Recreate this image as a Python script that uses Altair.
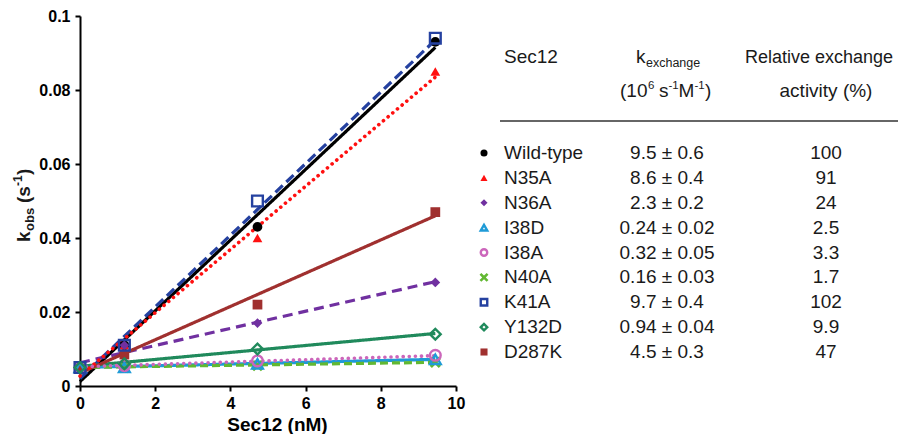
import altair as alt
import pandas as pd

FONT = "Liberation Sans"

series = ["Wild-type", "N35A", "N36A", "I38D", "I38A", "N40A", "K41A", "Y132D", "D287K"]
colors = ["#000000", "#ff1010", "#7030a0", "#1f9bd7", "#cc66bb", "#62b832", "#2541a0", "#208a5c", "#a0302f"]
k_text = ["9.5 ± 0.6", "8.6 ± 0.4", "2.3 ± 0.2", "0.24 ± 0.02", "0.32 ± 0.05",
          "0.16 ± 0.03", "9.7 ± 0.4", "0.94 ± 0.04", "4.5 ± 0.3"]
rel_text = ["100", "91", "24", "2.5", "3.3", "1.7", "102", "9.9", "47"]

filled_series = ["Wild-type", "N35A", "N36A", "N40A", "D287K"]
hollow_series = ["I38D", "I38A", "K41A", "Y132D"]
dotted_series = ["N35A", "I38A"]
other_series = ["Wild-type", "N36A", "I38D", "N40A", "K41A", "Y132D", "D287K"]

X_PATH = "M-1,-0.6L-0.6,-1L0,-0.4L0.6,-1L1,-0.6L0.4,0L1,0.6L0.6,1L0,0.4L-0.6,1L-1,0.6L-0.4,0Z"
shapes = ["circle", "triangle-up", "diamond", "triangle-up", "circle", X_PATH, "square", "diamond", "square"]
dashes = [[1, 0], [0.1, 6], [10, 6], [1, 0], [0.1, 6], [8, 4], [10, 5], [1, 0], [1, 0]]

# measured points (Sec12 nM, kobs s^-1)
conc = [0, 1.18, 4.72, 9.45]
kobs = {
    "Wild-type": [0.005, 0.011, 0.043, 0.093],
    "N35A":      [0.005, 0.011, 0.040, 0.085],
    "N36A":      [0.005, 0.011, 0.017, 0.028],
    "I38D":      [0.005, 0.005, 0.006, 0.0072],
    "I38A":      [0.005, 0.0055, 0.0068, 0.0083],
    "N40A":      [0.005, 0.005, 0.0055, 0.0064],
    "K41A":      [0.005, 0.011, 0.050, 0.094],
    "Y132D":     [0.005, 0.006, 0.010, 0.014],
    "D287K":     [0.005, 0.0085, 0.022, 0.047],
}
# linear fits (values at start and end)
fit_x = [0, 9.45]
fit_y = {
    "Wild-type": [0.0012, 0.0915],
    "N35A":      [0.0027, 0.0835],
    "N36A":      [0.0063, 0.0282],
    "I38D":      [0.0050, 0.0072],
    "I38A":      [0.0052, 0.0082],
    "N40A":      [0.0050, 0.0064],
    "K41A":      [0.0020, 0.0935],
    "Y132D":     [0.0053, 0.0142],
    "D287K":     [0.0035, 0.0460],
}

pts = pd.DataFrame([{"series": s, "conc": c, "kobs": v}
                    for s in series for c, v in zip(conc, kobs[s])])
fits = pd.DataFrame([{"series": s, "conc": c, "kobs": v}
                     for s in series for c, v in zip(fit_x, fit_y[s])])
table = pd.DataFrame({"series": series, "row": list(range(len(series))),
                      "k": k_text, "rel": rel_text})

color = alt.Color("series:N", scale=alt.Scale(domain=series, range=colors), legend=None)
shape = alt.Shape("series:N", scale=alt.Scale(domain=series, range=shapes), legend=None)
dash = alt.StrokeDash("series:N", scale=alt.Scale(domain=series, range=dashes), legend=None)

X = alt.X("conc:Q", scale=alt.Scale(domain=[0, 10], nice=False),
          axis=alt.Axis(values=[0, 2, 4, 6, 8, 10], format="d", grid=False,
                        domainColor="black", domainWidth=2, tickColor="black", tickWidth=2,
                        tickSize=5, labelFont=FONT, labelFontSize=16, labelFontWeight="bold",
                        labelColor="black", labelPadding=4, labelFlush=False, labelOverlap=False,
                        title="Sec12 (nM)", titleFont=FONT, titleFontSize=19,
                        titleFontWeight="bold", titleColor="black", titleX=197, titleY=44,
                        titleAlign="center", titleBaseline="alphabetic"))
Y = alt.Y("kobs:Q", scale=alt.Scale(domain=[0, 0.1], nice=False),
          axis=alt.Axis(values=[0, 0.02, 0.04, 0.06, 0.08, 0.1], format=".2~f", grid=False,
                        domainColor="black", domainWidth=2, tickColor="black", tickWidth=2,
                        tickSize=5, labelFont=FONT, labelFontSize=16, labelFontWeight="bold",
                        labelColor="black", labelPadding=5, labelFlush=False, labelOverlap=False,
                        title=None))

lines_other = alt.Chart(fits).transform_filter(
    alt.FieldOneOfPredicate(field="series", oneOf=other_series)
).mark_line(strokeWidth=3.2, strokeCap="butt").encode(x=X, y=Y, color=color, strokeDash=dash, detail="series:N")
lines_dot = alt.Chart(fits).transform_filter(
    alt.FieldOneOfPredicate(field="series", oneOf=dotted_series)
).mark_line(strokeWidth=3.6, strokeCap="round").encode(x=X, y=Y, color=color, strokeDash=dash, detail="series:N")
pts_filled = alt.Chart(pts).transform_filter(
    alt.FieldOneOfPredicate(field="series", oneOf=filled_series)
).mark_point(filled=True, opacity=1).encode(
    x=X, y=Y, color=color, shape=shape,
    size=alt.condition(alt.datum.series == "N40A", alt.value(130), alt.value(95)))
pts_hollow = alt.Chart(pts).transform_filter(
    alt.FieldOneOfPredicate(field="series", oneOf=hollow_series)
).mark_point(filled=False, size=115, strokeWidth=2.4, opacity=1).encode(x=X, y=Y, color=color, shape=shape)

plot = alt.layer(lines_other, lines_dot, pts_filled, pts_hollow)

# table
YR = alt.Y("row:Q", scale=alt.Scale(domain=[0, 8], range=[137, 336]), axis=None)
tmark_f = alt.Chart(table).transform_filter(
    alt.FieldOneOfPredicate(field="series", oneOf=filled_series)
).mark_point(filled=True, opacity=1).encode(
    x=alt.value(404), y=YR, color=color, shape=shape,
    size=alt.condition(alt.datum.series == "N40A", alt.value(80), alt.value(50)))
tmark_h = alt.Chart(table).transform_filter(
    alt.FieldOneOfPredicate(field="series", oneOf=hollow_series)
).mark_point(filled=False, size=42, strokeWidth=2.4, opacity=1).encode(x=alt.value(404), y=YR, color=color, shape=shape)
tname = alt.Chart(table).mark_text(font=FONT, fontSize=19, align="left", baseline="middle", color="#1a1a1a").encode(
    x=alt.value(424), y=YR, text="series:N")
tk = alt.Chart(table).mark_text(font=FONT, fontSize=19, align="center", baseline="middle", color="#1a1a1a").encode(
    x=alt.value(587), y=YR, text="k:N")
trel = alt.Chart(table).mark_text(font=FONT, fontSize=19, align="center", baseline="middle", color="#1a1a1a").encode(
    x=alt.value(746), y=YR, text="rel:N")
tab = alt.layer(tmark_f, tmark_h, tname, tk, trel)


def txt(s, x, y, size=19, bold=False, align="left", angle=0, dx=0, dy=0):
    return alt.Chart(pd.DataFrame({"t": [s]})).mark_text(
        font=FONT, fontSize=size, fontWeight="bold" if bold else "normal", align=align,
        baseline="alphabetic", angle=angle, dx=dx, dy=dy, color="#1a1a1a"
    ).encode(x=alt.value(x), y=alt.value(y), text="t:N")


ann = [
    # y axis title, rotated
    txt("k", -50, 226, 19, True, angle=270),
    txt("obs", -50, 226, 13, True, angle=270, dx=11, dy=4),
    txt("(s", -50, 226, 19, True, angle=270, dx=39),
    txt("-1", -50, 226, 12, True, angle=270, dx=56, dy=-8),
    txt(")", -50, 226, 19, True, angle=270, dx=67),
    # table header
    txt("Sec12", 424, 47),
    txt("k", 556, 47),
    txt("exchange", 556, 47, 12.5, dx=10, dy=4),
    txt("(10", 540, 81),
    txt("6", 540, 81, 11.5, dx=28, dy=-8),
    txt("s", 540, 81, dx=39),
    txt("-1", 540, 81, 11.5, dx=48.5, dy=-8),
    txt("M", 540, 81, dx=58.5),
    txt("-1", 540, 81, 11.5, dx=74.5, dy=-8),
    txt(")", 540, 81, dx=85),
    txt("Relative exchange", 739, 47, 18, align="center"),
    txt("activity (%)", 746, 81, align="center"),
]
rule = alt.Chart(pd.DataFrame({"a": [0]})).mark_rule(color="#333", strokeWidth=1.6).encode(
    x=alt.value(420), x2=alt.value(820), y=alt.value(105))

chart = alt.layer(plot, tab, rule, *ann).resolve_scale(y="independent").properties(
    width=376, height=370,
    autosize=alt.AutoSizeParams(type="none"),
    padding={"left": 72, "top": 8, "right": 442, "bottom": 48},
).configure_view(stroke=None)

chart.save("out.html", embed_options={"renderer": "svg", "actions": False})
